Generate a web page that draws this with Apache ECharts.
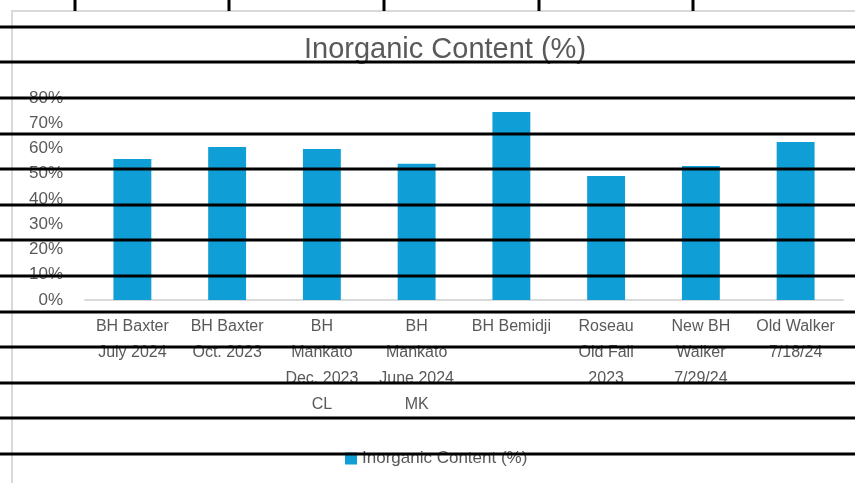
<!DOCTYPE html>
<html>
<head>
    <meta charset="utf-8">
    <script src="https://cdn.jsdelivr.net/npm/echarts@6/dist/echarts.min.js"></script>
    <style>
        html, body { margin: 0; padding: 0; background: #fff; }
    </style>
</head>
<body>

    <div id="main" style="width: 855px;height:483px;position:absolute"></div>

<script type="text/javascript">
// data
var categories = [
    'BH Baxter\nJuly 2024',
    'BH Baxter\nOct. 2023',
    'BH\nMankato\nDec. 2023\nCL',
    'BH\nMankato\nJune 2024\nMK',
    'BH Bemidji',
    'Roseau\nOld Fall\n2023',
    'New BH\nWalker\n7/29/24',
    'Old Walker\n7/18/24'
];
var inorganic = [55.8, 60.6, 59.8, 54.0, 74.5, 49.1, 53.1, 62.6];
var seriesName = 'Inorganic Content (%)';

// spreadsheet cell lines showing through the chart
var rowLines = [27, 62, 98, 134, 169, 205, 240, 276, 312, 347, 383, 418, 454];
var colLines = [75, 229, 384, 539, 693];

var graphics = [{
    type: 'rect',
    shape: { x: 12, y: 11, width: 900, height: 500 },
    style: { fill: 'none', stroke: '#d9d9d9', lineWidth: 2 },
    z: 0
}];
rowLines.forEach(function (y) {
    graphics.push({
        type: 'line',
        shape: { x1: 0, y1: y, x2: 855, y2: y },
        style: { stroke: '#000', lineWidth: 3 },
        z: 100
    });
});
colLines.forEach(function (x) {
    graphics.push({
        type: 'line',
        shape: { x1: x, y1: 0, x2: x, y2: 11 },
        style: { stroke: '#000', lineWidth: 3 },
        z: 100
    });
});

var myChart = echarts.init(document.getElementById('main'));
myChart.setOption({
    animation: false,
    title: {
        text: seriesName,
        left: 440,
        textAlign: 'center',
        top: 30,
        textStyle: {
            color: '#595959',
            fontSize: 29,
            fontWeight: 'normal',
            fontFamily: 'Liberation Sans Narrow, Liberation Sans, sans-serif'
        }
    },
    legend: {
        data: [seriesName],
        left: 340,
        top: 445,
        itemWidth: 12,
        itemHeight: 12,
        itemGap: 5,
        icon: 'rect',
        textStyle: {
            color: '#595959',
            fontSize: 17,
            fontFamily: 'Liberation Sans, sans-serif'
        }
    },
    grid: {
        left: 85,
        right: 12,
        top: 98,
        bottom: 183,
        containLabel: false
    },
    xAxis: {
        type: 'category',
        data: categories,
        axisTick: { show: false },
        axisLine: { lineStyle: { color: '#d9d9d9', width: 2 } },
        axisLabel: {
            interval: 0,
            margin: 14,
            color: '#595959',
            fontSize: 16,
            lineHeight: 26,
            fontFamily: 'Liberation Sans, sans-serif'
        }
    },
    yAxis: {
        type: 'value',
        min: 0,
        max: 80,
        interval: 10,
        splitLine: { show: false },
        axisLine: { show: false },
        axisTick: { show: false },
        axisLabel: {
            formatter: '{value}%',
            margin: 22,
            color: '#595959',
            fontSize: 17,
            fontFamily: 'Liberation Sans, sans-serif'
        }
    },
    series: [{
        name: seriesName,
        type: 'bar',
        data: inorganic,
        barWidth: '40%',
        itemStyle: { color: '#0F9ED5' }
    }],
    graphic: graphics
});
</script>

</body>
</html>
